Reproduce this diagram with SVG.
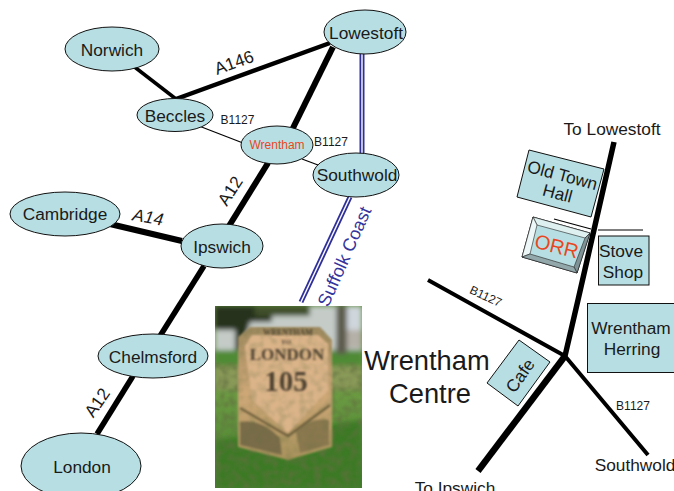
<svg xmlns="http://www.w3.org/2000/svg" width="674" height="491" viewBox="0 0 674 491">
<style>
text{font-family:"Liberation Sans",Arial,sans-serif;fill:#1a1a1a;text-anchor:middle}
.n{fill:#b7dfe3;stroke:#111;stroke-width:1}
.t{font-size:17.300px}
.s{font-size:12px}
.r{fill:none;stroke:#000;stroke-linecap:butt;stroke-linejoin:round}
.bl{fill:none;stroke:#2f2f9a;stroke-width:5}
.wh{fill:none;stroke:#fff;stroke-width:1.400}
.stxt{fill:#4f4330;font-weight:bold;font-family:"Liberation Serif",serif}
</style>
<defs>
<filter id="b1" x="-10%" y="-10%" width="120%" height="120%"><feGaussianBlur stdDeviation="1.100"/></filter>
<filter id="b2" x="-20%" y="-20%" width="140%" height="140%"><feGaussianBlur stdDeviation="2.400"/></filter>
<filter id="b3" x="-20%" y="-20%" width="140%" height="140%"><feGaussianBlur stdDeviation=".8"/></filter>
<filter id="mott" x="0" y="0" width="100%" height="100%">
<feTurbulence type="fractalNoise" baseFrequency=".14" numOctaves="2" seed="4"/>
<feColorMatrix type="matrix" values="0 0 0 0 .12  0 0 0 0 .16  0 0 0 0 .05  0 0 0 2.600 -1.050"/>
<feComposite in2="SourceAlpha" operator="in"/>
<feGaussianBlur stdDeviation="1"/>
</filter>
<linearGradient id="stone" x1="0" y1="0" x2="0" y2="1"><stop offset="0" stop-color="#a08a60"/><stop offset=".5" stop-color="#cfa878"/><stop offset="1" stop-color="#a8925c"/></linearGradient>
<linearGradient id="grass" x1="0" y1="0" x2="0" y2="1"><stop offset="0" stop-color="#5d8a3c"/><stop offset=".5" stop-color="#6a9a42"/><stop offset="1" stop-color="#44802e"/></linearGradient>
<clipPath id="ph"><rect x="215" y="306" width="147" height="182"/></clipPath>
</defs>

<g id="connectors">
<path class="r" stroke-width="3.500" d="M132 65L176 99"/>
<path class="r" stroke-width="4.500" d="M176 99L330 43"/>
<path class="r" stroke-width="6" d="M333 47L292 130"/>
<path class="r" stroke-width="6" d="M268 163L229 226"/>
<path class="r" stroke-width="5.500" d="M204 266L160 336"/>
<path class="r" stroke-width="5.500" d="M133 376L97 434"/>
<path class="r" stroke-width="6" d="M110 224L182 241"/>
<path class="r" stroke-width="1.200" d="M199 126L243 143"/>
<path class="r" stroke-width="1.200" d="M302 159L318 165"/>
<path class="bl" d="M362 54V154"/><path class="wh" d="M362 54V154"/>
<path class="bl" d="M350 197L301 302"/><path class="wh" d="M350 197L301 302"/>
<path class="r" stroke-width="5.500" d="M614 142L578 300L565 356"/>
<path class="r" stroke-width="4" d="M428 280L565 356L648 455"/>
<path class="r" stroke-width="6.500" d="M565 356L478 471"/>
<path class="r" stroke-width="1.200" d="M554 219L591 229"/>
<path class="r" stroke-width="1.200" d="M598 230H643"/>
</g>

<g id="norwich"><ellipse class="n" cx="112" cy="49" rx="47" ry="22"/><text class="t" x="112" y="56">Norwich</text></g>
<g id="lowestoft"><ellipse class="n" cx="365" cy="32" rx="41" ry="22"/><text class="t" x="366" y="39">Lowestoft</text></g>
<g id="beccles"><ellipse class="n" cx="175" cy="115" rx="38" ry="16.500"/><text class="t" x="175" y="122">Beccles</text></g>
<g id="wrentham"><ellipse class="n" cx="277" cy="145" rx="36" ry="19"/><text x="277" y="149" style="font-size:12px;fill:#e8471e">Wrentham</text></g>
<g id="southwold"><ellipse class="n" cx="356" cy="175" rx="43" ry="22"/><text class="t" x="357" y="181">Southwold</text></g>
<g id="cambridge"><ellipse class="n" cx="65" cy="214" rx="55" ry="22"/><text class="t" x="65" y="220">Cambridge</text></g>
<g id="ipswich"><ellipse class="n" cx="222" cy="246" rx="41" ry="22"/><text class="t" x="222" y="253">Ipswich</text></g>
<g id="chelmsford"><ellipse class="n" cx="153" cy="356" rx="55" ry="22"/><text class="t" x="153" y="363">Chelmsford</text></g>
<g id="london"><ellipse class="n" cx="81" cy="466" rx="60" ry="33"/><text class="t" x="82" y="473">London</text></g>

<g id="road-labels">
<text class="t" transform="translate(236 68) rotate(-20)">A146</text>
<text class="t" transform="translate(235 194) rotate(-57)">A12</text>
<text class="t" transform="translate(147 223) rotate(10)" font-style="italic">A14</text>
<text class="t" transform="translate(102 406) rotate(-55)">A12</text>
<text class="s" x="237.500" y="124">B1127</text>
<text class="s" x="331" y="146">B1127</text>
<text transform="translate(350 259) rotate(-66)" style="font-size:18px;fill:#35359c">Suffolk Coast</text>
<text class="s" transform="translate(484 300) rotate(25)">B1127</text>
<text class="s" x="633" y="410">B1127</text>
</g>

<g id="milestone-photo" clip-path="url(#ph)">
<rect x="215" y="306" width="147" height="182" fill="url(#grass)"/>
<g filter="url(#b2)">
<rect x="215" y="306" width="147" height="54" fill="#c5ccc8"/>
<rect x="335" y="306" width="27" height="35" fill="#cfd6dc"/>
<rect x="215" y="350" width="147" height="16" fill="#4f8a34"/>
<rect x="215" y="366" width="147" height="24" fill="#8a9a58"/>
<path d="M215 306H272V322H250L243 350H235V330H215Z" fill="#26301f"/>
<path d="M255 306H310V316H255Z" fill="#3f4f2c"/>
<rect x="336" y="306" width="11" height="48" fill="#5c5a4c"/>
<rect x="347" y="330" width="15" height="18" fill="#b5b0a8"/>
<path d="M215 440L362 420V488H215Z" fill="#3e7a28"/>
</g>
<rect x="215" y="362" width="147" height="126" fill="#000" filter="url(#mott)" opacity=".7"/>
<g filter="url(#b1)">
<path d="M238 337L250 327H320L332 340V447L288 460L238 447Z" fill="url(#stone)"/>
<path d="M245 346L252 335H318L328 344V390L288 433L252 400Z" fill="#dcb48a"/>
<path d="M240 408L288 436L330 405" fill="none" stroke="#6a5a3a" stroke-width="2.500"/>
<path d="M240 422Q262 418 280 438L282 455L240 445Z" fill="#7a6c48"/>
<path d="M296 432Q312 416 329 420V445L300 453Z" fill="#8a7850"/>
</g>
<path d="M238 337L250 327H320L332 340V447L288 460L238 447Z" fill="#000" filter="url(#mott)" opacity=".25"/>
<g filter="url(#b3)">
<text class="stxt" x="288" y="335" style="font-size:8px">WRENTHAM</text>
<text class="stxt" x="286" y="344" style="font-size:7px">TO</text>
<text class="stxt" x="287" y="360" style="font-size:17px">LONDON</text>
<text class="stxt" x="286" y="391" style="font-size:29px">105</text>
</g>
</g>

<g id="wrentham-centre-title">
<text x="427" y="370" style="font-size:27.300px">Wrentham</text>
<text x="430" y="403" style="font-size:27.300px">Centre</text>
</g>

<g id="old-town-hall"><polygon class="n" points="529,150 604,169 591,217 517,197"/>
<text class="t" transform="translate(561 181) rotate(15)">Old Town</text>
<text class="t" transform="translate(556 199) rotate(15)">Hall</text></g>

<g id="orr">
<polygon points="533,217 590,233 577,273 522,257" fill="#b7dfe3" stroke="#222" stroke-width="1"/>
<polygon points="533,217 590,233 585,238 537,225" fill="#dff0f1" stroke="#222" stroke-width=".6"/>
<polygon points="533,217 537,225 530,254 522,257" fill="#eef7f7" stroke="#222" stroke-width=".6"/>
<polygon points="590,233 585,238 574,267 577,273" fill="#7f9396" stroke="#222" stroke-width=".6"/>
<polygon points="522,257 530,254 574,267 577,273" fill="#93a8ab" stroke="#222" stroke-width=".6"/>
<text transform="translate(555 253) rotate(14)" style="font-size:20px;fill:#e8471e">ORR</text>
</g>

<g id="stove-shop"><rect class="n" x="598.500" y="236" width="50.500" height="49"/>
<text class="t" x="621" y="257">Stove</text><text class="t" x="623" y="278">Shop</text></g>
<g id="wrentham-herring"><rect class="n" x="587.500" y="303.500" width="92" height="69"/>
<text class="t" x="631" y="334">Wrentham</text><text class="t" x="632" y="355">Herring</text></g>
<g id="cafe"><polygon class="n" points="519,340 550,362 518,406 487,383"/>
<text class="t" transform="translate(525 379) rotate(-55)">Cafe</text></g>

<g id="destinations">
<text class="t" x="612" y="135">To Lowestoft</text>
<text class="t" x="635" y="471">Southwold</text>
<text class="t" x="455" y="494">To Ipswich</text>
</g>
</svg>
